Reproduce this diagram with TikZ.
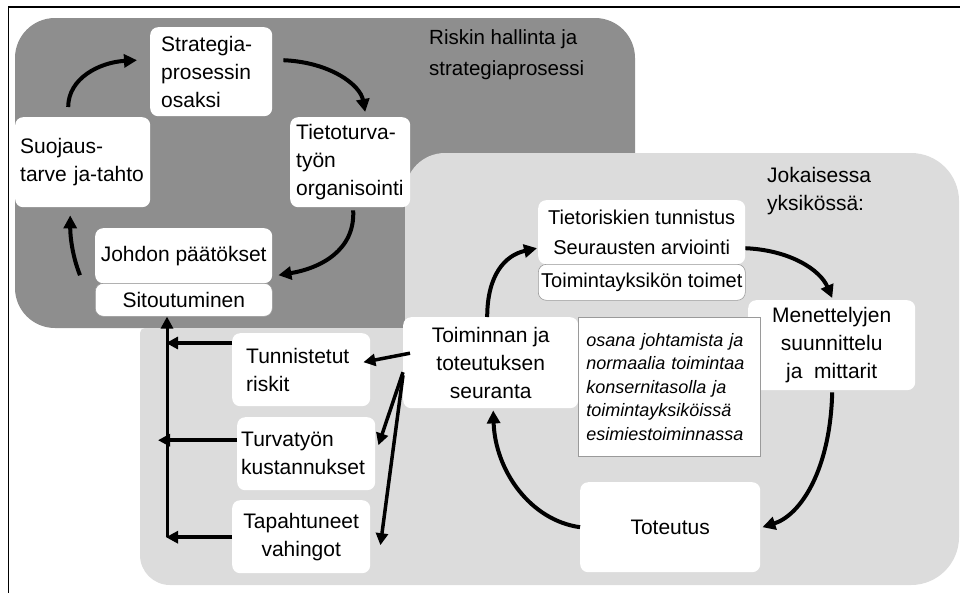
\documentclass[tikz,border=0pt]{standalone}
\usepackage{fontspec}
\setmainfont{Liberation Sans}
\usetikzlibrary{arrows.meta,calc}
\definecolor{darkbg}{HTML}{8E8E8E}
\definecolor{lightbg}{HTML}{DCDCDC}
\definecolor{edgegray}{HTML}{9A9A9A}
\tikzset{
  wbox/.style={fill=white, rounded corners=8pt, inner sep=0pt, font=\fontsize{21}{28}\selectfont},
  lbox/.style={wbox, align=left, anchor=north west},
  cbox/.style={wbox, align=center, anchor=north west},
  lbl/.style={inner sep=0pt, align=left, anchor=north west, font=\fontsize{20.5}{29}\selectfont},
  arr/.style={line width=4pt, -{Triangle[length=13pt,width=13pt]}},
  barr/.style={line width=3.5pt, -{Triangle[length=12pt,width=12pt]}}
}
\begin{document}
\begin{tikzpicture}[x=1pt,y=-1pt]
\useasboundingbox (0,0) rectangle (960,592);
% frame
\draw[line width=1.5pt] (8.5,600) -- (8.5,7) -- (970,7);
% backgrounds
\fill[darkbg, rounded corners=40pt] (15,18) rectangle (635,328);
\fill[lightbg] (405,328) -- (405,220) [rounded corners=40pt] -- (405,153) -- (700,153)
  [rounded corners=48pt] -- (959,153) -- (959,585) -- (500,585)
  [rounded corners=30pt] -- (140,585) -- (140,420) [rounded corners=5pt] -- (140,328) -- (300,328) [sharp corners] -- cycle;
% labels
\node[lbl, font=\fontsize{20.5}{31}\selectfont] (riskin) at (429,29) {Riskin hallinta ja\\strategiaprosessi};
\node[lbl, font=\fontsize{21}{28}\selectfont] (jok) at (767,167) {Jokaisessa\\yksikössä:};
% upper cycle boxes
\node[lbox, text width=100pt, inner xsep=11pt, minimum height=89pt] (strat) at (150,27) {Strategia-\\prosessin\\osaksi};
\node[lbox, text width=125pt, inner xsep=5pt, minimum height=90pt] (suoj) at (15,117) {Suojaus-\\tarve ja-tahto};
\node[lbox, text width=108pt, inner xsep=6pt, minimum height=90pt] (tiet) at (290,117) {Tietoturva-\\työn\\organisointi};
\node[cbox, minimum width=177pt, minimum height=55pt] (johdon) at (95,228) {Johdon päätökset};
\node[cbox, draw=edgegray, line width=0.6pt, minimum width=177pt, minimum height=33pt] (sitou) at (95,283) {Sitoutuminen};
% lower cycle boxes
\node[cbox, font=\fontsize{20}{30}\selectfont, minimum width=207pt, minimum height=64pt] (tiri) at (538,200) {Tietoriskien tunnistus\\Seurausten arviointi};
\node[cbox, font=\fontsize{20}{28}\selectfont, draw=edgegray, line width=0.6pt, minimum width=207pt, minimum height=36pt] (toimy) at (538,264) {Toimintayksikön toimet};
\node[cbox, minimum width=167pt, minimum height=90pt] (men) at (748,300) {Menettelyjen\\suunnittelu\\ja\ \ mittarit};
\node[cbox, minimum width=175pt, minimum height=91pt] (toim) at (403,317) {Toiminnan ja\\toteutuksen\\seuranta};
\node[anchor=north west, fill=white, draw=edgegray, line width=0.6pt, inner ysep=0pt, inner xsep=8pt, text width=166pt, minimum height=139pt, align=left, font=\fontsize{18}{23.5}\selectfont\itshape] (ital) at (578,317) {osana johtamista ja\\normaalia toimintaa\\konsernitasolla ja\\toimintayksiköissä\\esimiestoiminnassa};
\node[cbox, minimum width=180pt, minimum height=90pt] (tot) at (580,482) {Toteutus};
% left boxes
\node[lbox, text width=110pt, inner xsep=14pt, minimum height=73pt] (tunn) at (232,333) {Tunnistetut\\riskit};
\node[lbox, text width=130pt, inner xsep=4pt, minimum height=73pt] (turv) at (237,417) {Turvatyön\\kustannukset};
\node[cbox, minimum width=138pt, minimum height=73pt] (tapa) at (232,500) {Tapahtuneet\\vahingot};
% upper cycle arrows
\draw[arr] ($(suoj.north)+(-14.5,-10)$) .. controls +(0,-29) and +(-37,2) .. ($(strat.west)+(-13,-11.5)$);
\draw[arr] ($(strat.east)+(11,-11.5)$) .. controls +(47,2) and +(-5,-27) .. ($(tiet.north)+(15,-5)$);
\draw[arr] ($(tiet.south)+(3,3)$) .. controls +(2,40) and +(42,-7) .. ($(johdon.east)+(6,19.5)$);
\draw[arr] ($(johdon.west)+(-15,19.5)$) .. controls +(-8,-20) and +(0,20) .. ($(suoj.south)+(-12.5,8)$);
% lower cycle arrows
\draw[arr] ($(toim.north)+(-3.5,0)$) .. controls +(0,-42) and +(-32,7) .. ($(tiri.west)+(-1,16)$);
\draw[arr] ($(tiri.east)+(0,16)$) .. controls +(45,2) and +(-12,-28) .. ($(men.north)+(0.5,-2)$);
\draw[arr] ($(men.south)+(0.5,2)$) .. controls +(-2,78) and +(38,-12) .. ($(tot.east)+(2,0)$);
\draw[arr] (tot.west) .. controls +(-50,-7) and +(2,60) .. ($(toim.south)+(2.5,2)$);
% from seuranta to left boxes
\draw[barr] ($(toim.west)+(7,-9.5)$) -- ($(tunn.east)+(-7,-7.5)$);
\draw[barr] ($(toim.west)+(0,9.5)$) -- ($(turv.east)+(3,-8.5)$);
\draw[barr] ($(toim.west)+(0,12.5)$) -- ($(tapa.east)+(10,8.5)$);
% bus to Sitoutuminen
\coordinate (bus) at (167,537);
\draw[barr, line width=3pt] (bus) -- (bus |- sitou.south);
\draw[barr] ($(tunn.north west)+(0,10)$) coordinate (t1) -- ($(t1 -| bus)+(-1,0)$);
\draw[barr] ($(turv.west)+(0,-13.5)$) coordinate (t2) -- ($(t2 -| bus)+(-9,0)$);
\draw[barr] ($(tapa.west)+(0,0.5)$) coordinate (t3) -- ($(t3 -| bus)+(-1,0)$);
\end{tikzpicture}
\end{document}
